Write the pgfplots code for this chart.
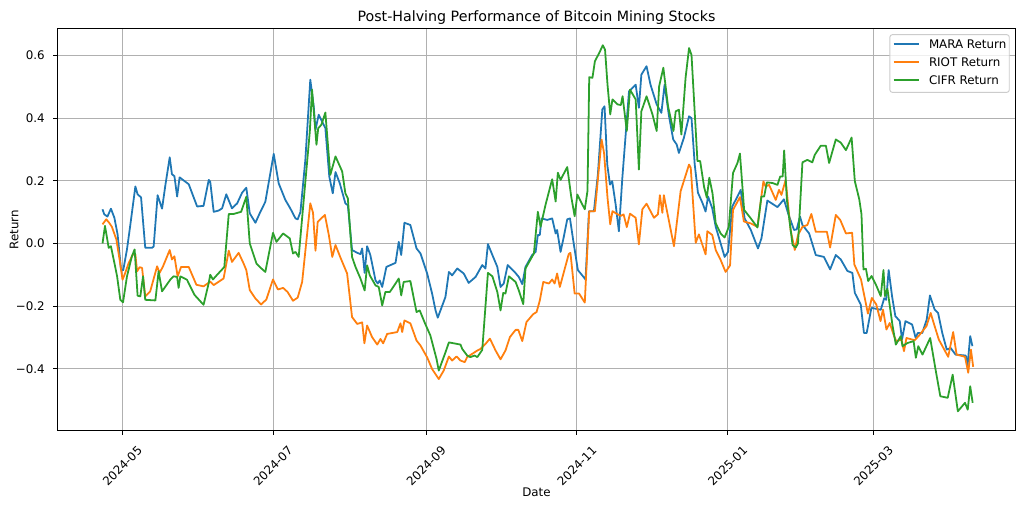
\documentclass[border=0pt]{standalone}
\usepackage{pgfplots}
\pgfplotsset{compat=1.18}
\usepackage{fontspec}
\setmainfont{DejaVu Sans}
\definecolor{mara}{HTML}{1F77B4}
\definecolor{riot}{HTML}{FF7F0E}
\definecolor{cifr}{HTML}{2CA02C}
\definecolor{gridc}{HTML}{B0B0B0}
\begin{document}
\begin{tikzpicture}
\path[use as bounding box] (0,0) rectangle (864pt,428.6pt);
\begin{axis}[
  at={(48.35pt,65.2pt)}, anchor=south west,
  scale only axis, width=808.6pt, height=339.5pt,
  xmin=-26.3, xmax=361.6, ymin=-0.598, ymax=0.687,
  xtick={0,61,123,184,245,304},
  xticklabels={2024-05,2024-07,2024-09,2024-11,2025-01,2025-03},
  ytick={-0.4,-0.2,0,0.2,0.4,0.6},
  yticklabels={−0.4,−0.2,0.0,0.2,0.4,0.6},
  xtick pos=bottom, ytick pos=left,
  tick align=outside, major tick length=3.5pt,
  every tick/.style={black, line width=0.8pt},
  axis line style={line width=0.8pt, black},
  grid=major, grid style={gridc, line width=0.8pt},
  tick label style={font=\fontsize{10}{12}\selectfont},
  xticklabel style={yshift=-26.2pt, rotate=45, anchor=center, inner sep=0pt},
  yticklabel style={xshift=-7pt, anchor=east, inner sep=0pt},
  title={Post-Halving Performance of Bitcoin Mining Stocks},
  every axis title/.style={at={(0.5,1)}, anchor=base, yshift=6pt, inner sep=0pt, font=\fontsize{12}{14}\selectfont},
  xlabel={Date}, ylabel={Return},
  every axis x label/.style={at={(axis description cs:0.5,0)}, yshift=-55.7pt, anchor=base, inner sep=0pt, font=\fontsize{10}{12}\selectfont},
  every axis y label/.style={at={(axis description cs:0,0.5)}, xshift=-36.5pt, rotate=90, anchor=center, inner sep=0pt, font=\fontsize{10}{12}\selectfont},
  legend style={at={(1,1)}, anchor=north east, xshift=-5pt, yshift=-5pt, draw=black!20, line width=0.8pt, rounded corners=2pt, fill=white, fill opacity=0.8, text opacity=1, inner xsep=2.5pt, inner ysep=1.5pt, row sep=0pt, font=\fontsize{10}{12}\selectfont, nodes={inner xsep=0pt, inner ysep=2.6pt, text height=7.6pt, text depth=2.4pt, anchor=base west}, /tikz/every odd column/.append style={column sep=8pt}},
  legend image code/.code={\draw[#1, line width=1.5pt] (0pt,3.6pt) -- (21pt,3.6pt);},
  every axis plot/.append style={line width=1.5pt, line join=round, no marks},
]
\addplot[mara] coordinates {
(-8,0.109) (-7.3,0.093) (-6,0.086) (-4.6,0.111) (-3.2,0.082) (-1.9,0.029) (-0.5,-0.083) (0.4,-0.085) (1.9,-0.019) (3.2,0.056) (5.3,0.182) (6.2,0.157) (7.6,0.147) (9.3,-0.014) (12,-0.014) (12.7,-0.010) (14.3,0.154) (16.1,0.111) (17.4,0.184) (19.2,0.275) (20.1,0.221) (21.1,0.215) (22.2,0.150) (23.2,0.211) (26.9,0.189) (28.9,0.147) (30.3,0.118) (32.9,0.120) (35,0.203) (35.6,0.197) (37,0.101) (39,0.105) (40.4,0.112) (42.1,0.157) (44.4,0.112) (46.5,0.128) (48.5,0.162) (50.2,0.178) (51.6,0.096) (53.9,0.066) (55.6,0.096) (57.9,0.133) (61.3,0.286) (63.3,0.192) (66,0.139) (68,0.112) (70.1,0.080) (71,0.077) (72.1,0.100) (74.1,0.267) (76.1,0.523) (77.5,0.437) (78.2,0.363) (79.5,0.411) (82.2,0.368) (83.8,0.213) (85.2,0.160) (86.3,0.228) (88,0.193) (90.3,0.128) (91.3,0.122) (93,-0.021) (95.1,-0.030) (96.4,-0.034) (97.1,-0.016) (98.1,-0.094) (99.1,-0.009) (100.4,-0.037) (102.5,-0.118) (103.4,-0.128) (104.2,-0.118) (105.2,-0.139) (106.9,-0.075) (110.6,-0.062) (111.9,0.005) (112.9,-0.037) (114.2,0.066) (116.6,0.059) (119.1,-0.016) (120.7,-0.032) (123.4,-0.096) (125.4,-0.160) (126.8,-0.214) (127.7,-0.237) (130.8,-0.171) (132.2,-0.091) (133.5,-0.102) (135.6,-0.080) (138.2,-0.096) (140.2,-0.126) (143,-0.107) (145.7,-0.069) (147,-0.080) (148,-0.002) (149.8,-0.037) (151.8,-0.075) (153.1,-0.139) (154.4,-0.128) (156,-0.069) (158.8,-0.091) (160.5,-0.107) (161.9,-0.130) (163.2,-0.075) (165.9,-0.037) (167.3,-0.027) (168.2,0.027) (169,0.027) (169.7,0.080) (172,0.075) (174,0.080) (175.4,0.032) (176,0.043) (177.4,-0.027) (178.7,0.021) (180.1,0.077) (181.2,0.080) (182.5,0.011) (184.4,-0.085) (186.8,-0.108) (187.5,-0.115) (188.9,0.103) (190.9,0.103) (192.5,0.220) (194.3,0.428) (195.2,0.438) (196.3,0.252) (197.4,0.188) (198.3,0.199) (199.7,0.124) (201,0.039) (202.4,0.209) (205.1,0.486) (207.8,0.507) (209.1,0.433) (210.1,0.539) (212.2,0.566) (213.8,0.507) (216.3,0.444) (218.2,0.417) (219.5,0.507) (221.3,0.406) (223,0.332) (224.4,0.316) (225.3,0.289) (227.3,0.337) (229.4,0.406) (230.4,0.400) (231.7,0.252) (233,0.162) (234.8,0.130) (236.1,0.102) (237.1,0.150) (238.8,0.112) (240.2,0.053) (242.2,0.0) (243.8,-0.043) (245.2,-0.027) (246.9,0.118) (249,0.150) (250.3,0.171) (251.9,0.080) (254.4,0.043) (257.3,-0.016) (258.7,0.016) (261.1,0.137) (265.2,0.116) (267.8,0.141) (269.5,0.096) (271.9,0.043) (273,0.045) (274.3,0.086) (275.3,0.059) (278,0.032) (280.7,-0.037) (284,-0.043) (286.5,-0.083) (288.8,-0.037) (290.8,-0.051) (293.5,-0.088) (295.5,-0.094) (296.5,-0.158) (298.9,-0.195) (300.2,-0.286) (301.3,-0.286) (303.2,-0.206) (305.4,-0.209) (307,-0.212) (308.4,-0.175) (309.2,-0.180) (310.2,-0.085) (311.6,-0.170) (312.9,-0.232) (314.7,-0.248) (315.6,-0.307) (317,-0.248) (319.7,-0.259) (321.1,-0.301) (322,-0.286) (323.8,-0.286) (325.6,-0.243) (326.9,-0.166) (328.8,-0.211) (330.2,-0.222) (331.9,-0.286) (333.7,-0.339) (335.3,-0.334) (337.3,-0.355) (341.4,-0.358) (342.1,-0.392) (343.2,-0.296) (344.1,-0.328)
};
\addlegendentry{MARA Return}
\addplot[riot] coordinates {
(-8,0.061) (-6.5,0.077) (-5.3,0.066) (-4.2,0.053) (-2.4,0.013) (-1.1,-0.051) (0.1,-0.116) (1.2,-0.094) (2.6,-0.062) (4.3,-0.035) (5.3,-0.035) (6,-0.089) (7,-0.076) (8,-0.078) (9.3,-0.169) (11.3,-0.153) (14.1,-0.073) (15.1,-0.094) (16.5,-0.073) (19.2,-0.021) (20.1,-0.051) (21.1,-0.041) (22.4,-0.105) (23.8,-0.075) (26.9,-0.075) (30,-0.132) (32.9,-0.137) (35.6,-0.122) (37,-0.133) (41,-0.112) (43.1,-0.023) (44.4,-0.059) (47.1,-0.030) (49.1,-0.064) (50.2,-0.085) (51.6,-0.149) (53.9,-0.176) (56.2,-0.195) (58.3,-0.179) (61,-0.115) (63,-0.147) (65.1,-0.142) (66.9,-0.155) (69.1,-0.183) (71,-0.173) (72.8,-0.123) (76.1,0.128) (77.2,0.098) (78.2,-0.023) (79.1,0.069) (82,0.091) (83.6,0.027) (85,-0.043) (86.3,-0.005) (88.3,-0.045) (91,-0.096) (93,-0.235) (95.1,-0.257) (97.1,-0.252) (98,-0.319) (99.1,-0.262) (101.1,-0.299) (103.2,-0.323) (104.5,-0.305) (105.6,-0.319) (107.2,-0.289) (111.3,-0.283) (112.6,-0.255) (113.3,-0.283) (114.2,-0.246) (116.6,-0.255) (119.1,-0.310) (120.7,-0.326) (123.4,-0.364) (125.4,-0.401) (128.1,-0.433) (130.1,-0.406) (132.2,-0.361) (133.5,-0.374) (135.3,-0.361) (136.9,-0.374) (138.6,-0.379) (139.6,-0.363) (143.7,-0.342) (145,-0.337) (147,-0.321) (148.8,-0.304) (151.1,-0.342) (153.1,-0.370) (155.1,-0.342) (156.9,-0.299) (159.2,-0.276) (160.3,-0.276) (161.9,-0.312) (163.6,-0.251) (166.3,-0.226) (167.7,-0.219) (169,-0.182) (170.4,-0.123) (172.7,-0.128) (174,-0.115) (175,-0.128) (176,-0.096) (177.1,-0.139) (180.7,-0.034) (181.4,-0.030) (183.1,-0.160) (184.9,-0.160) (187.2,-0.189) (189,0.103) (191.3,0.103) (194,0.332) (195,0.289) (196.4,0.146) (197.5,0.061) (198.4,0.103) (200.5,0.093) (201.8,0.088) (202.9,0.093) (204.2,0.052) (205.5,0.095) (207.8,0.082) (209.1,-0.003) (210.5,0.109) (212.2,0.127) (215.2,0.082) (216.8,0.093) (217.6,0.154) (218.6,0.098) (219.2,0.154) (223.3,-0.009) (226,0.167) (229.4,0.252) (230.1,0.241) (232.1,0.002) (233.4,0.029) (236.1,-0.035) (236.8,0.039) (238.8,0.027) (240.2,-0.021) (242.2,-0.053) (244.2,-0.091) (246,-0.070) (247.2,0.107) (250,0.148) (251.6,0.070) (254.4,0.064) (257.1,0.053) (258.7,0.152) (259.5,0.198) (260.4,0.182) (261.8,0.187) (264.5,0.139) (265.8,0.171) (266.8,0.155) (268.5,0.203) (270.5,0.043) (272.2,-0.021) (273.5,0.027) (275.3,0.053) (277.3,0.059) (278.9,0.094) (280.7,0.037) (285.2,0.037) (286.5,-0.013) (288.8,0.091) (290.6,0.075) (292.9,0.032) (295.4,0.034) (296.3,-0.067) (299,-0.115) (301.8,-0.224) (303.4,-0.174) (305.2,-0.195) (306.9,-0.248) (307.9,-0.211) (309.3,-0.275) (310.6,-0.254) (312.4,-0.296) (313.3,-0.312) (315.4,-0.307) (316.4,-0.344) (317.4,-0.302) (320.7,-0.309) (322.3,-0.296) (325.5,-0.264) (327.2,-0.222) (328.8,-0.264) (330.5,-0.307) (334.3,-0.362) (336.3,-0.283) (337.7,-0.355) (341.1,-0.362) (342.4,-0.413) (343.5,-0.339) (344.4,-0.394)
};
\addlegendentry{RIOT Return}
\addplot[cifr] coordinates {
(-8,0.0) (-7,0.056) (-5.5,-0.014) (-4.6,-0.009) (-3.2,-0.062) (-2.1,-0.105) (-0.8,-0.180) (0.3,-0.188) (1.9,-0.105) (3.9,-0.041) (5,-0.019) (6.2,-0.167) (7.3,-0.169) (8.4,-0.105) (9.3,-0.180) (13.4,-0.182) (14.7,-0.089) (16.1,-0.153) (19.4,-0.116) (20.8,-0.105) (22.2,-0.107) (22.8,-0.142) (23.5,-0.105) (26.2,-0.116) (29.2,-0.164) (32.9,-0.196) (35,-0.126) (35.6,-0.100) (36.7,-0.115) (38.4,-0.100) (40.4,-0.083) (41.3,-0.075) (43.1,0.094) (45,0.094) (48.1,0.101) (50.2,0.149) (51.6,0.0) (54.3,-0.064) (55.9,-0.077) (57.9,-0.091) (61,0.034) (62.4,0.005) (65.1,0.032) (67.8,0.016) (69.1,-0.032) (70.1,-0.027) (71.4,-0.043) (75.9,0.357) (76.8,0.491) (78.6,0.315) (79.3,0.368) (80.6,0.379) (82.2,0.418) (84.2,0.219) (86.3,0.278) (89,0.230) (90.3,0.160) (91.3,0.144) (93,-0.043) (94.4,-0.075) (96.4,-0.112) (98.1,-0.150) (99.1,-0.070) (100.2,-0.102) (102.5,-0.134) (103.8,-0.139) (105.2,-0.198) (106.5,-0.155) (108.3,-0.155) (110.6,-0.128) (111.9,-0.112) (112.9,-0.166) (113.9,-0.123) (116.6,-0.120) (119.1,-0.219) (120.4,-0.214) (122.3,-0.251) (124.7,-0.294) (127.2,-0.369) (128.1,-0.406) (130.8,-0.348) (132.2,-0.316) (134.9,-0.320) (136.9,-0.323) (137.6,-0.337) (139.6,-0.358) (140.9,-0.363) (142.6,-0.358) (143.7,-0.363) (145.7,-0.340) (148,-0.094) (149.8,-0.105) (151.8,-0.155) (153.1,-0.214) (154.2,-0.158) (155.1,-0.160) (156.5,-0.105) (159.2,-0.123) (160.5,-0.150) (162.3,-0.194) (163.2,-0.080) (166.6,-0.032) (168.2,0.101) (169.3,0.053) (171.3,0.123) (174,0.205) (175.4,0.134) (176.3,0.226) (177.4,0.203) (180.1,0.244) (181.7,0.150) (183.1,0.087) (184.2,0.156) (187.2,0.109) (188.3,0.168) (189,0.531) (190.3,0.529) (191.3,0.582) (193.1,0.609) (194.5,0.633) (195.4,0.619) (196.4,0.507) (197.5,0.412) (198.4,0.460) (200.5,0.444) (201.8,0.442) (202.5,0.470) (204.2,0.359) (205.5,0.491) (207.8,0.460) (209.1,0.236) (210.1,0.422) (212.2,0.470) (214.6,0.412) (216.3,0.359) (217.3,0.502) (219,0.561) (220.9,0.438) (223.1,0.359) (224,0.422) (225.3,0.427) (226.3,0.348) (228,0.529) (229.4,0.624) (230.4,0.602) (232.8,0.263) (233.9,0.263) (235.5,0.180) (236.6,0.146) (237.6,0.210) (238.9,0.160) (240.2,0.064) (242.2,0.032) (243.8,0.019) (245.5,0.053) (247.2,0.225) (249,0.257) (250,0.287) (251.7,0.107) (254.4,0.080) (257.1,0.051) (258.7,0.150) (259.8,0.150) (260.9,0.195) (263.2,0.193) (265.2,0.187) (266.3,0.214) (267.3,0.214) (267.9,0.297) (269,0.139) (271.3,-0.005) (272.6,-0.013) (273.5,0.0) (275.3,0.259) (277.3,0.267) (279.3,0.259) (280.3,0.283) (282.7,0.312) (284.8,0.312) (286.1,0.257) (288.8,0.332) (290.8,0.322) (292.9,0.298) (295.2,0.338) (296.5,0.199) (298.3,0.141) (299.2,0.093) (300,-0.083) (301,-0.081) (301.9,-0.120) (303.3,-0.104) (305,-0.131) (307,-0.168) (308.1,-0.085) (308.7,-0.168) (309.7,-0.145) (311.7,-0.259) (313.1,-0.323) (315.1,-0.296) (315.8,-0.328) (317.8,-0.318) (320.3,-0.312) (321.2,-0.365) (322.2,-0.328) (323.9,-0.355) (327,-0.302) (329.3,-0.408) (331.1,-0.488) (334.1,-0.493) (336.1,-0.419) (338.2,-0.536) (341.1,-0.509) (342.2,-0.531) (343.2,-0.456) (344.2,-0.509)
};
\addlegendentry{CIFR Return}
\end{axis}
\end{tikzpicture}
\end{document}
